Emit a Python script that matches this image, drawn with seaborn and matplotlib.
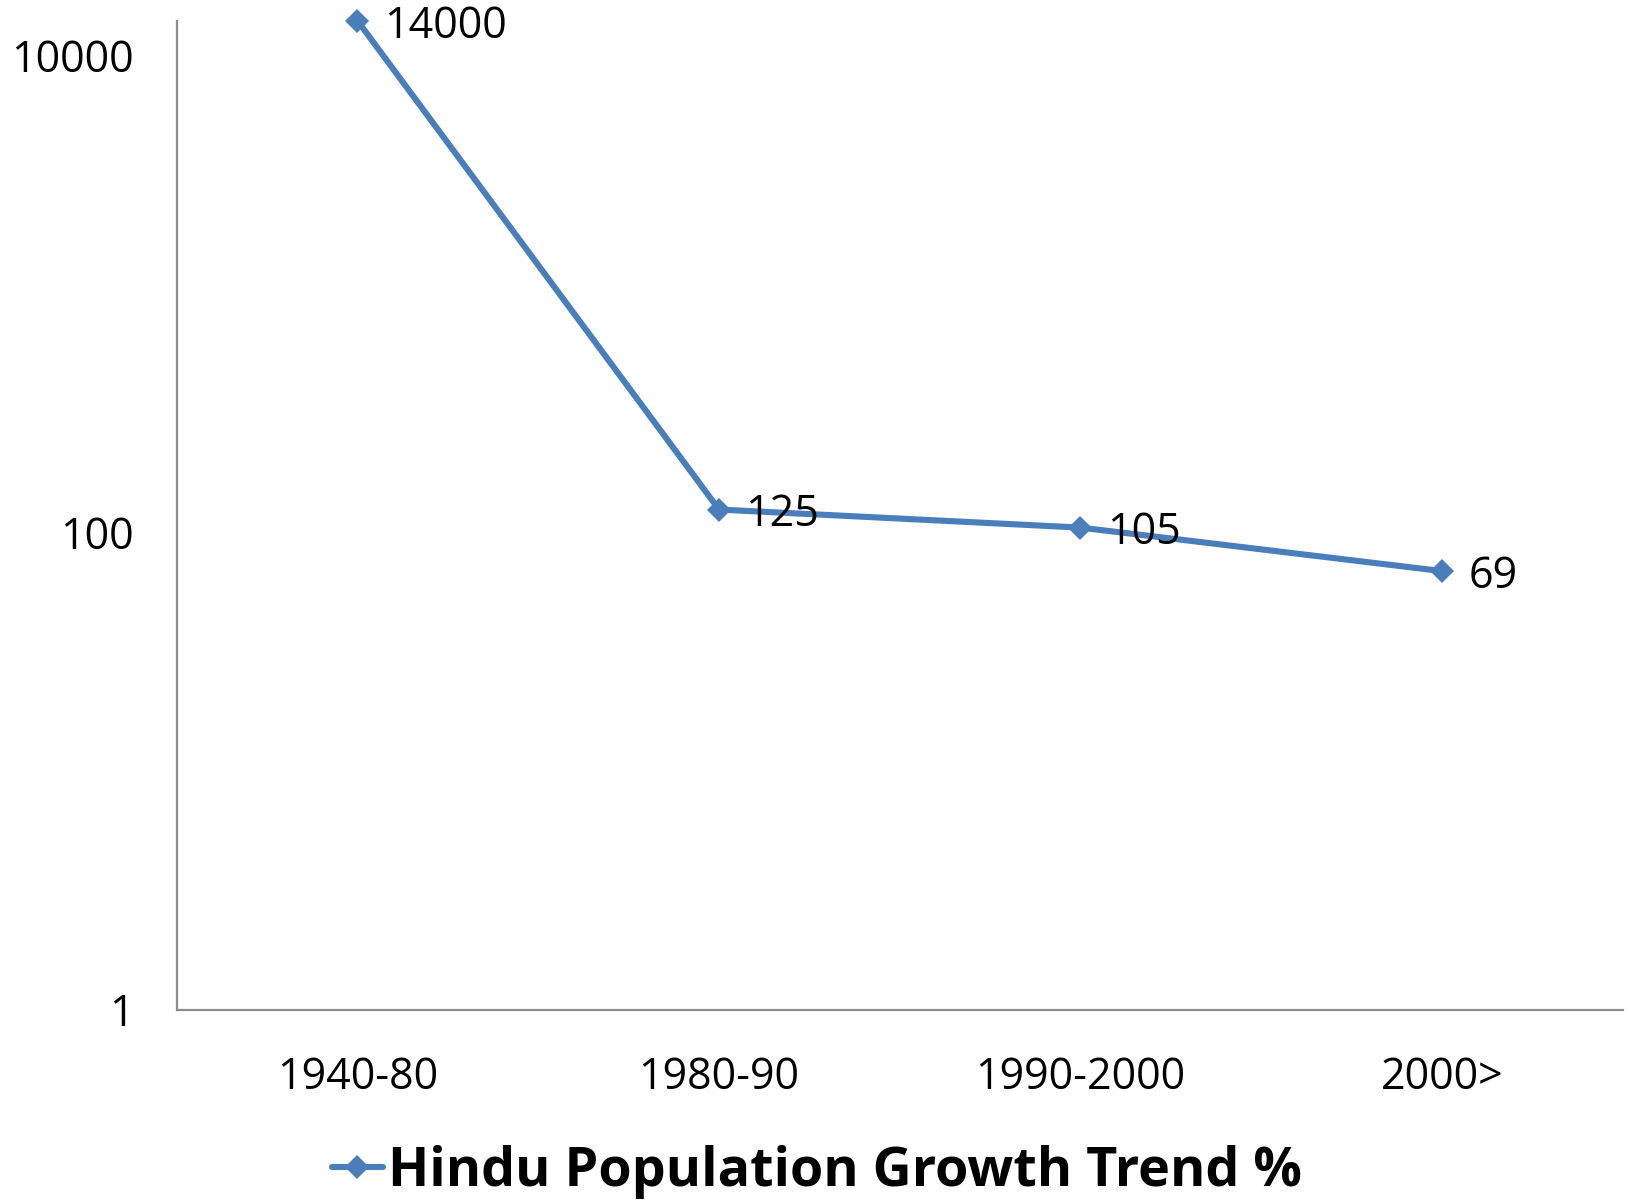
import matplotlib
matplotlib.use("Agg")
import matplotlib.pyplot as plt
import seaborn as sns
import pandas as pd

periods = ["1940-80", "1980-90", "1990-2000", "2000>"]
growth = [14000, 125, 105, 69]
series_name = "Hindu Population Growth Trend %"
y_ticks = [1, 100, 10000]
y_tick_labels = ["1", "100", "10000"]

sns.set_theme(style="white")
plt.rcParams['font.family'] = ['Open Sans', 'DejaVu Sans']

df = pd.DataFrame({"period": periods, "growth": growth, "series": series_name})

W, H = 1567.0, 1155.0  # reference layout measured on a 0.962-scaled view
fig = plt.figure(figsize=(16.29, 12.01), dpi=100)
ax = fig.add_axes([170/W, 1 - 971/H, (1561-170)/W, (971-20)/H])

color = "#4A7EBB"
sns.lineplot(data=df, x="period", y="growth", hue="series", palette=[color],
             marker="D", markersize=12, linewidth=4.4, markeredgewidth=0,
             sort=False, ax=ax, clip_on=False)

ax.set_yscale("log")
ax.set_ylim(1, 14000)
ax.set_xlim(-0.5, 3.5)
ax.set_yticks(y_ticks)
ax.set_yticklabels(y_tick_labels)
ax.minorticks_off()
ax.set_xticks(range(len(periods)))
ax.set_xticklabels(periods)
ax.tick_params(axis="both", length=0, labelsize=31, colors="black")
ax.tick_params(axis="y", pad=31)
ax.tick_params(axis="x", pad=33)
ax.set_xlabel("")
ax.set_ylabel("")

for side in ["top", "right"]:
    ax.spines[side].set_visible(False)
for side in ["left", "bottom"]:
    ax.spines[side].set_color("#8C8C8C")
    ax.spines[side].set_linewidth(1.6)

for i, v in enumerate(growth):
    ax.annotate(f"{v}", (i, v), xytext=(19, 0), textcoords="offset points",
                ha="left", va="center_baseline", fontsize=31, color="black")

handles, labels = ax.get_legend_handles_labels()
leg = ax.legend(handles, labels, loc="center", bbox_to_anchor=(786/W, 1 - 1127/H),
                bbox_transform=fig.transFigure, frameon=False,
                prop={"weight": "bold", "size": 38.8}, handlelength=0.95,
                handletextpad=0.1, borderaxespad=0)
for t in leg.get_texts():
    t.set_color("black")

fig.savefig("out.png", dpi=100)
